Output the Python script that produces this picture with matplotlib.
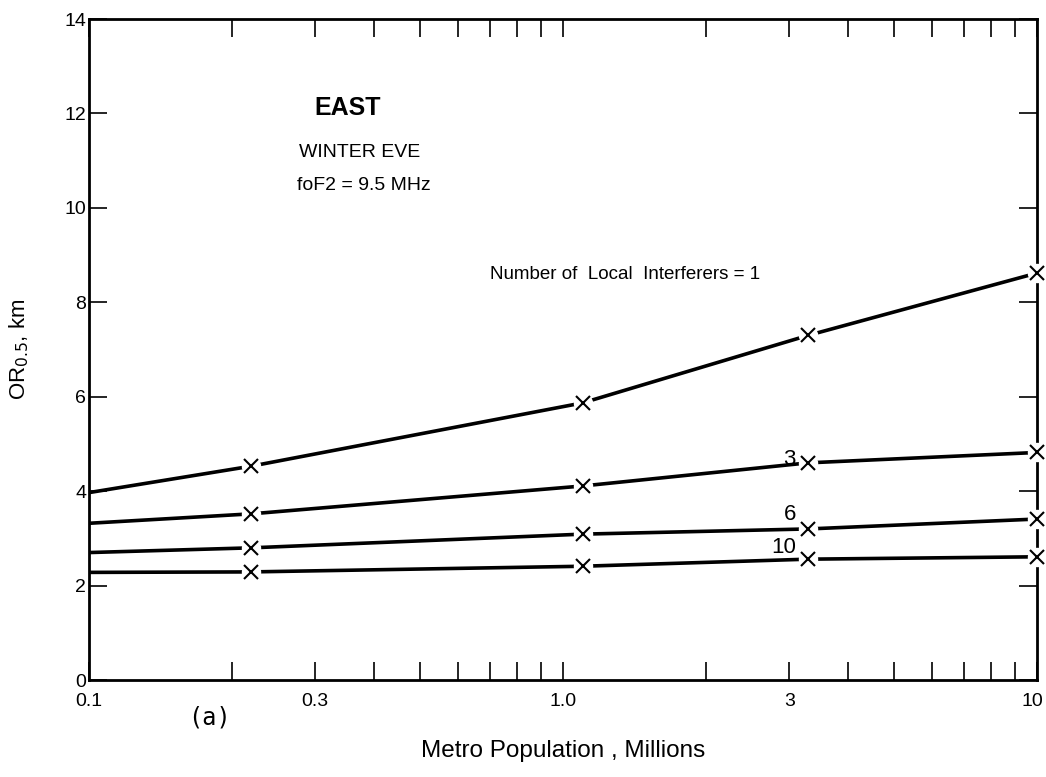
import numpy as np
import matplotlib
matplotlib.use("Agg")
import matplotlib.pyplot as plt
import matplotlib.transforms as mtransforms
from matplotlib.ticker import FixedLocator, NullFormatter, FixedFormatter

# population (millions) where the curves were evaluated
pop = [0.1, 0.22, 1.1, 3.29, 10.0]
# OR_0.5 in km for the number of local interferers
or_1 = [3.97, 4.53, 5.87, 7.30, 8.62]
or_3 = [3.32, 3.52, 4.11, 4.60, 4.82]
or_6 = [2.70, 2.80, 3.09, 3.20, 3.41]
or_10 = [2.28, 2.29, 2.41, 2.56, 2.61]

xtick_vals = [0.1, 0.3, 1.0, 3, 10]
xtick_labels = ["0.1", "0.3", "1.0", "3", "10"]
ytick_vals = [0, 2, 4, 6, 8, 10, 12, 14]

plt.rcParams["font.family"] = ["Liberation Sans", "DejaVu Sans"]

fig = plt.figure(figsize=(10.46, 7.77), dpi=100)
ax = fig.add_axes([0.0851, 0.1248, 0.9063, 0.8507])

for ys in [or_1, or_3, or_6, or_10]:
    ax.plot(pop, ys, color="black", lw=2.6, solid_capstyle="butt", zorder=2)
    # small gap in the line around each cross, like the original drawing
    ax.plot(pop[1:], ys[1:], ls="none", marker="o", ms=14, mfc="white",
            mec="none", zorder=3, clip_on=False)
    ax.plot(pop[1:], ys[1:], ls="none", marker="x", ms=10, mew=1.5,
            color="black", zorder=4, clip_on=False)

ax.set_xscale("log")
ax.set_xlim(0.1, 10)
ax.set_ylim(0, 14)

ax.xaxis.set_major_locator(FixedLocator(xtick_vals))
ax.xaxis.set_major_formatter(FixedFormatter(xtick_labels))
minor = [m * d for d in [0.1, 1] for m in range(2, 10)]
ax.xaxis.set_minor_locator(FixedLocator(minor))
ax.xaxis.set_minor_formatter(NullFormatter())
ax.set_yticks(ytick_vals)

ax.tick_params(which="both", direction="in", top=True, right=True,
               length=13, width=1.2, labelsize=14)
ax.tick_params(axis="x", pad=9)
ax.tick_params(axis="y", pad=2)
for s in ax.spines.values():
    s.set_linewidth(2)

# keep the last x label inside the figure
last = ax.xaxis.get_major_ticks()[-1].label1
last.set_transform(last.get_transform() +
                   mtransforms.ScaledTranslation(-3 / 72, 0, fig.dpi_scale_trans))

ax.text(0.352, 11.97, "EAST", fontsize=18, fontweight="bold", ha="center")
ax.text(0.372, 11.07, "WINTER EVE", fontsize=14, ha="center")
ax.text(0.38, 10.37, "foF2 = 9.5 MHz", fontsize=14, ha="center")
ax.text(0.70, 8.5, "Number of  Local  Interferers = 1", fontsize=13.5)
ax.text(3.1, 4.55, "3", fontsize=16, ha="right")
ax.text(3.1, 3.4, "6", fontsize=16, ha="right")
ax.text(3.1, 2.7, "10", fontsize=16, ha="right")

ax.set_ylabel("OR$_{0.5}$, km", fontsize=16, labelpad=24)
ax.set_xlabel("Metro Population , Millions", fontsize=17.5, labelpad=22)
fig.text(0.2, 0.068, "(a)", fontsize=17, family="DejaVu Sans Mono", ha="center")

fig.savefig("out.png", dpi=100)
